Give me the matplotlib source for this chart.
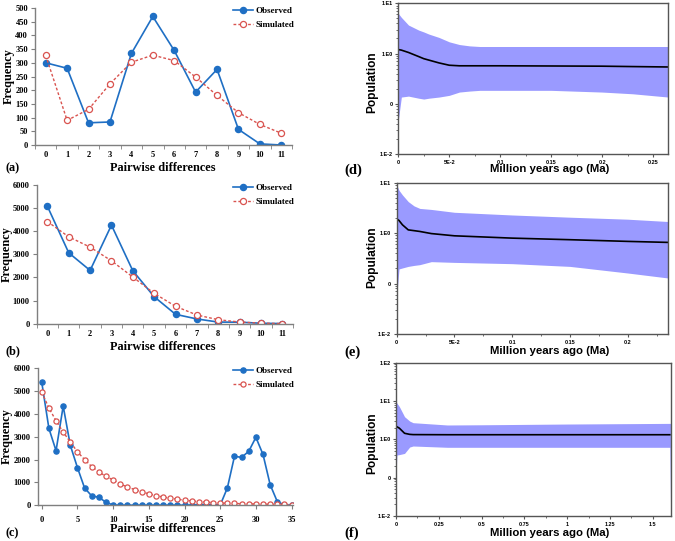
import matplotlib
matplotlib.use("Agg")
import matplotlib.pyplot as plt
import numpy as np
from matplotlib.ticker import FixedLocator, NullFormatter, LogLocator

# ---------------- Data: mismatch distributions ----------------
diff_ab = list(range(12))
obs_a = [300, 280, 81, 84, 334, 469, 345, 193, 276, 57, 4, 0]
sim_a = [327, 90, 130, 223, 302, 328, 308, 248, 181, 118, 75, 43]

obs_b = [5070, 3060, 2300, 4255, 2285, 1165, 405, 205, 70, 65, 20, 5]
sim_b = [4410, 3750, 3305, 2715, 2015, 1310, 750, 375, 172, 72, 25, 5]

diff_c = list(range(36))
obs_c = [5370, 3360, 2385, 4335, 2620, 1645, 755, 410, 350, 130,
         10, 5, 5, 5, 5, 5, 5, 5, 5, 5,
         5, 10, 20, 30, 30, 10, 755, 2140, 2095, 2360,
         2970, 2220, 900, 160, 10, 10]
sim_c = [4950, 4250, 3695, 3200, 2765, 2340, 1995, 1690, 1455, 1265,
         1105, 930, 800, 690, 590, 500, 425, 360, 310, 265,
         225, 190, 160, 140, 120, 100, 90, 80, 70, 62,
         55, 50, 45, 40, 35, 30]

# ---------------- Data: Bayesian skyline plots ----------------
time_d = [0, 0.003, 0.01, 0.02, 0.025, 0.03, 0.04, 0.05, 0.06, 0.07, 0.08, 0.1, 0.15, 0.2, 0.23, 0.265]
upper_d = [6.3, 5.25, 3.69, 2.93, 2.69, 2.44, 2.09, 1.71, 1.51, 1.42, 1.38, 1.38, 1.38, 1.38, 1.38, 1.38]
median_d = [1.2, 1.17, 1.05, 0.87, 0.79, 0.74, 0.65, 0.585, 0.57, 0.57, 0.57, 0.57, 0.565, 0.56, 0.55, 0.54]
lower_d = [0.047, 0.136, 0.142, 0.129, 0.124, 0.129, 0.136, 0.147, 0.171, 0.179, 0.185, 0.185, 0.185, 0.171, 0.158, 0.136]

time_e = [0, 0.002, 0.005, 0.01, 0.015, 0.02, 0.03, 0.05, 0.1, 0.15, 0.2, 0.235]
upper_e = [9.0, 7.08, 5.71, 4.22, 3.47, 3.09, 2.95, 2.59, 2.29, 2.07, 1.89, 1.70]
median_e = [1.92, 1.78, 1.46, 1.16, 1.12, 1.08, 0.98, 0.885, 0.796, 0.741, 0.686, 0.655]
lower_e = [0.056, 0.195, 0.204, 0.219, 0.229, 0.237, 0.272, 0.263, 0.248, 0.219, 0.162, 0.129]

time_f = [0, 0.005, 0.02, 0.05, 0.08, 0.1, 0.3, 0.5, 1.0, 1.6, 1.605]
upper_f = [9.6, 8.9, 7.1, 3.9, 3.0, 2.72, 2.37, 2.4, 2.51, 2.61, 2.61]
median_f = [2.14, 2.14, 1.95, 1.44, 1.35, 1.33, 1.32, 1.32, 1.32, 1.32, 1.32]
lower_f = [0.095, 0.39, 0.40, 0.43, 0.63, 0.67, 0.62, 0.62, 0.62, 0.62, 0.01]

# ---------------- Figure ----------------
W, H = 675, 541
fig = plt.figure(figsize=(W / 100, H / 100), dpi=100)


def px_axes(left, right, top, bottom):
    return fig.add_axes([left / W, (H - bottom) / H, (right - left) / W, (bottom - top) / H])


def ftext(x, y, s, **kw):
    return fig.text(x / W, 1 - y / H, s, **kw)


SERIF = "Liberation Serif"
SANS = "Liberation Sans"
BLUE = "#1f6fc4"
RED = "#d9534f"
GRAY = "#7f7f7f"


def mismatch_panel(ax, x, obs, sim, ymax, ystep, xlim, xticks, half_ticks, letter,
                   ly, ty, fx, fy, leg_y, ms, xpad):
    ax.plot(x, obs, color=BLUE, lw=1.2, marker="o", ms=ms, mfc=BLUE, mec=BLUE, label="Observed")
    ax.plot(x, sim, color=RED, lw=1.0, ls=(0, (2, 1.5)), marker="o", ms=ms,
            mfc="white", mec=RED, mew=0.9, label="Simulated")
    ax.set_ylim(0, ymax)
    ax.set_xlim(*xlim)
    ax.set_yticks(np.arange(0, ymax + 1, ystep))
    ax.set_xticks(xticks)
    for s in ["top", "right"]:
        ax.spines[s].set_visible(False)
    for s in ["left", "bottom"]:
        ax.spines[s].set_color(GRAY)
        ax.spines[s].set_linewidth(1.0)
    if half_ticks:
        ax.tick_params(axis="x", which="major", length=0, pad=xpad)
        ax.xaxis.set_minor_locator(FixedLocator(np.arange(xlim[0], xlim[1] + 0.01, 1.0)))
        ax.tick_params(axis="x", which="minor", length=3, color=GRAY, direction="out")
    else:
        ax.tick_params(axis="x", which="major", length=3, color=GRAY, pad=xpad)
    ax.tick_params(axis="y", length=3, color=GRAY, pad=2)
    for lab in ax.get_xticklabels() + ax.get_yticklabels():
        lab.set_fontfamily(SERIF)
        lab.set_fontweight("bold")
        lab.set_fontsize(6)
    ax.legend(loc="upper left", bbox_to_anchor=(233 / W, 1 - leg_y / H),
              bbox_transform=fig.transFigure, frameon=False, borderpad=0, borderaxespad=0,
              prop={"family": SERIF, "weight": "bold", "size": 6.5},
              handlelength=2.2, labelspacing=0.6, handletextpad=0.3)
    ftext(fx, fy, "Frequency", fontfamily=SERIF, fontweight="bold", fontsize=8.8,
          rotation=90, ha="center", va="center")
    ftext(6, ly, letter, fontfamily=SERIF, fontweight="bold", fontsize=8.8,
          ha="left", va="center")
    ftext(163, ty, "Pairwise differences", fontfamily=SERIF, fontweight="bold",
          fontsize=8.8, ha="center", va="center")


ax_a = px_axes(35, 292, 8, 145)
mismatch_panel(ax_a, diff_ab, obs_a, sim_a, 500, 50, (-0.5, 11.5), diff_ab, True,
               "(a)", 168, 168, 9, 76, 7, 4.4, 4)
ax_b = px_axes(36.7, 293, 184.7, 323.7)
mismatch_panel(ax_b, diff_ab, obs_b, sim_b, 6000, 1000, (-0.5, 11.5), diff_ab, True,
               "(b)", 351, 347.5, 7, 254, 184, 4.4, 4.5)
ax_c = px_axes(37.7, 293, 368, 505.3)
mismatch_panel(ax_c, diff_c, obs_c, sim_c, 6000, 1000, (-0.57, 35.2), list(range(0, 36, 5)), False,
               "(c)", 533, 529, 7, 436, 367, 3.7, 4.5)

FILL = "#9a9aff"


def skyline_panel(ax, t, up, med, lo, xmax, ymin, ymax, xt, xtl, xminor, yt, ytl, letter,
                  ly, ty, py, trim_end):
    ax.fill_between(t, lo, up, color=FILL, lw=0)
    n = len(t) - 1 if trim_end else len(t)
    ax.plot(t[:n], med[:n], color="black", lw=1.2)
    ax.set_yscale("log")
    ax.set_ylim(ymin, ymax)
    ax.set_xlim(0, xmax)
    ax.set_xticks(xt)
    ax.set_xticklabels(xtl)
    ax.xaxis.set_minor_locator(FixedLocator(xminor))
    ax.set_yticks(yt)
    ax.set_yticklabels(ytl)
    ax.yaxis.set_minor_locator(LogLocator(base=10, subs=np.arange(2, 10)))
    ax.yaxis.set_minor_formatter(NullFormatter())
    for s in ax.spines.values():
        s.set_color("#555555")
        s.set_linewidth(1.0)
    ax.tick_params(axis="both", which="major", length=2.5, width=0.8, color="#555555", pad=1.5)
    ax.tick_params(axis="both", which="minor", length=1.5, width=0.6, color="#555555")
    for lab in ax.get_xticklabels() + ax.get_yticklabels():
        lab.set_fontfamily(SANS)
        lab.set_fontweight("bold")
        lab.set_fontsize(4)
    ftext(372.5, py, "Population", fontfamily=SANS, fontweight="bold", fontsize=8.6,
          rotation=90, ha="center", va="center")
    ftext(344, ly, letter, fontfamily=SERIF, fontweight="bold", fontsize=10.5,
          ha="left", va="center")
    ftext(550, ty, "Million years ago (Ma)", fontfamily=SANS, fontweight="bold",
          fontsize=8.2, ha="center", va="center")


ax_d = px_axes(398.3, 668, 3.3, 154)
skyline_panel(ax_d, time_d, upper_d, median_d, lower_d, 0.2647, 1e-2, 1e1,
              [0, 0.05, 0.1, 0.15, 0.2, 0.25], ["0", "5E-2", "0.1", "0.15", "0.2", "0.25"],
              [0.025, 0.075, 0.125, 0.175, 0.225],
              [1e-2, 1e-1, 1e0, 1e1], ["1.E-2", "0", "1.E0", "1.E1"],
              "(d)", 170, 169, 82, False)
ax_e = px_axes(396.7, 668.3, 182.7, 334)
skyline_panel(ax_e, time_e, upper_e, median_e, lower_e, 0.2352, 1e-2, 1e1,
              [0, 0.05, 0.1, 0.15, 0.2], ["0", "5E-2", "0.1", "0.15", "0.2"],
              [0.025, 0.075, 0.125, 0.175, 0.225],
              [1e-2, 1e-1, 1e0, 1e1], ["1.E-2", "0", "1.E0", "1.E1"],
              "(e)", 352.7, 351, 257, False)
ax_f = px_axes(396, 671, 362.7, 516)
skyline_panel(ax_f, time_f, upper_f, median_f, lower_f, 1.607, 1e-2, 1e2,
              [0, 0.25, 0.5, 0.75, 1, 1.25, 1.5], ["0", "0.25", "0.5", "0.75", "1", "1.25", "1.5"],
              [0.125, 0.375, 0.625, 0.875, 1.125, 1.375],
              [1e-2, 1e-1, 1e0, 1e1, 1e2], ["1.E-2", "0", "1.E0", "1.E1", "1.E2"],
              "(f)", 533, 532.7, 443, True)

fig.savefig("out.png", dpi=100)
